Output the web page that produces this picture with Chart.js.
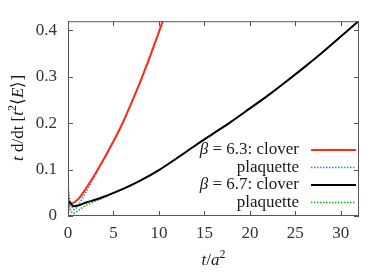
<!DOCTYPE html>
<html>
<head>
<meta charset="utf-8">
<script src="https://cdn.jsdelivr.net/npm/chart.js@4"></script>
<style>
  html, body { margin: 0; padding: 0; background: #fff; }
  #wrap { width: 390px; height: 273px; }
</style>
</head>
<body>
<div id="wrap"><canvas id="flowChart"></canvas></div>
<script>
// beta = 6.3, clover
const tClover63 = [0, 0.15, 0.4, 0.8, 1.2, 2, 3, 4, 5, 6, 7, 8, 9, 10, 10.6];
const eClover63 = [0.038, 0.03, 0.027, 0.031, 0.038, 0.06, 0.091, 0.125, 0.161, 0.2, 0.245, 0.292, 0.343, 0.397, 0.43];
// beta = 6.3, plaquette
const tPlaq63 = [0, 0.1, 0.2, 0.4, 0.7, 1, 1.5, 2, 2.5, 3, 4, 5, 6, 7, 8, 9, 10, 10.6];
const ePlaq63 = [0.065, 0.05, 0.036, 0.021, 0.014, 0.02, 0.035, 0.052, 0.07, 0.088, 0.124, 0.161, 0.2, 0.245, 0.292, 0.343, 0.397, 0.43];
// beta = 6.7, clover
const tClover67 = [0, 0.05, 0.15, 0.3, 0.6, 1, 2, 3, 4, 5, 6, 8, 10, 12, 14, 16, 18, 20, 22, 24, 26, 28, 30, 32];
const eClover67 = [0.005, 0.026, 0.03, 0.027, 0.021, 0.022, 0.029, 0.035, 0.042, 0.05, 0.058, 0.077, 0.099, 0.125, 0.152, 0.178, 0.204, 0.232, 0.26, 0.29, 0.321, 0.353, 0.387, 0.421];
// beta = 6.7, plaquette
const tPlaq67 = [0, 0.1, 0.2, 0.4, 0.7, 1, 1.5, 2, 3, 4, 5, 6, 8, 10, 12, 14, 16, 18, 20, 22, 24, 26, 28, 30, 32];
const ePlaq67 = [0.048, 0.03, 0.018, 0.009, 0.006, 0.01, 0.017, 0.023, 0.032, 0.04, 0.049, 0.058, 0.077, 0.099, 0.125, 0.152, 0.178, 0.204, 0.232, 0.26, 0.29, 0.321, 0.353, 0.387, 0.421];

const xTicks = [0, 5, 10, 15, 20, 25, 30];
const yTicks = [0, 0.1, 0.2, 0.3, 0.4];

const legendRows = [
  { parts: [{ t: "β", i: true }, { t: " = 6.3: clover" }], color: "#ff2a10", dash: [] },
  { parts: [{ t: "plaquette" }], color: "#3d7fe6", dash: [1.5, 1.5] },
  { parts: [{ t: "β", i: true }, { t: " = 6.7: clover" }], color: "#000000", dash: [] },
  { parts: [{ t: "plaquette" }], color: "#10b010", dash: [1.5, 1.5] }
];

const SERIF = "Liberation Serif";
const FS = 17;

Chart.defaults.font.family = SERIF;
Chart.defaults.font.size = FS;
Chart.defaults.color = "#333";

function toPoints(xs, ys) {
  return xs.map((x, i) => ({ x, y: ys[i] }));
}

function fontFor(p) {
  const size = p.s ? Math.round(FS * 0.72) : FS;
  return `${p.i ? "italic " : ""}${size}px "${SERIF}"`;
}

function richWidth(ctx, parts) {
  return parts.reduce((w, p) => { ctx.font = fontFor(p); return w + ctx.measureText(p.t).width; }, 0);
}

function drawRich(ctx, parts, x, y, align) {
  let cx = x;
  const w = richWidth(ctx, parts);
  if (align === "right") cx = x - w;
  if (align === "center") cx = x - w / 2;
  ctx.textBaseline = "middle";
  ctx.textAlign = "left";
  parts.forEach((p) => {
    ctx.font = fontFor(p);
    ctx.fillText(p.t, cx, p.s ? y - 6 : y);
    cx += ctx.measureText(p.t).width;
  });
}

const framePlugin = {
  id: "frame",
  afterDraw(chart) {
    const { ctx, chartArea: a, scales } = chart;
    ctx.save();
    ctx.strokeStyle = "#555";
    ctx.lineWidth = 1;
    ctx.strokeRect(a.left + 0.5, a.top + 0.5, a.right - a.left - 1, a.bottom - a.top - 1);
    // inward ticks
    ctx.beginPath();
    xTicks.forEach((v) => {
      const px = Math.round(scales.x.getPixelForValue(v)) + 0.5;
      ctx.moveTo(px, a.bottom); ctx.lineTo(px, a.bottom - 5);
      ctx.moveTo(px, a.top); ctx.lineTo(px, a.top + 5);
    });
    yTicks.forEach((v) => {
      const py = Math.round(scales.y.getPixelForValue(v)) + 0.5;
      ctx.moveTo(a.left, py); ctx.lineTo(a.left + 5, py);
      ctx.moveTo(a.right, py); ctx.lineTo(a.right - 5, py);
    });
    ctx.stroke();

    // legend
    ctx.fillStyle = "#1a1a1a";
    legendRows.forEach((row, i) => {
      const y = 150 + i * 17.5;
      drawRich(ctx, row.parts, 299, y, "right");
      ctx.beginPath();
      ctx.setLineDash(row.dash);
      ctx.strokeStyle = row.color;
      ctx.lineWidth = row.dash.length ? 1.5 : 2;
      ctx.moveTo(311, y); ctx.lineTo(356, y);
      ctx.stroke();
    });
    ctx.setLineDash([]);

    // axis titles
    ctx.fillStyle = "#1a1a1a";
    drawRich(ctx, [{ t: "t", i: true }, { t: "/" }, { t: "a", i: true }, { t: "2", s: true }], (a.left + a.right) / 2, 261, "center");
    ctx.translate(19, 118);
    ctx.rotate(-Math.PI / 2);
    drawRich(ctx, [{ t: "t", i: true }, { t: " d/dt [" }, { t: "t", i: true }, { t: "2", s: true }, { t: "⟨" }, { t: "E", i: true }, { t: "⟩]" }], 0, 0, "center");
    ctx.restore();
  }
};

function lineSet(label, xs, ys, color, dotted, order) {
  return {
    label,
    data: toPoints(xs, ys),
    borderColor: color,
    borderWidth: dotted ? 1.5 : 2,
    borderDash: dotted ? [1.5, 1.5] : [],
    pointRadius: 0,
    showLine: true,
    fill: false,
    cubicInterpolationMode: "monotone",
    order
  };
}

new Chart(document.getElementById("flowChart"), {
  type: "scatter",
  data: {
    datasets: [
      lineSet("beta 6.3 clover", tClover63, eClover63, "#ff2a10", false, 1),
      lineSet("beta 6.3 plaquette", tPlaq63, ePlaq63, "#3d7fe6", true, 2),
      lineSet("beta 6.7 clover", tClover67, eClover67, "#000000", false, 0),
      lineSet("beta 6.7 plaquette", tPlaq67, ePlaq67, "#10b010", true, 3)
    ]
  },
  options: {
    responsive: true,
    maintainAspectRatio: false,
    animation: false,
    layout: { padding: { left: 0, right: 31, top: 21, bottom: 0 } },
    plugins: { legend: { display: false }, tooltip: { enabled: false } },
    scales: {
      x: {
        type: "linear",
        min: 0,
        max: 32,
        afterFit: (s) => { s.height = 57; },
        grid: { drawOnChartArea: false, drawTicks: false },
        border: { display: false },
        ticks: {
          stepSize: 5,
          includeBounds: false,
          padding: 7,
          color: "#333",
          font: { family: SERIF, size: FS }
        }
      },
      y: {
        type: "linear",
        min: 0,
        max: 0.42,
        afterFit: (s) => { s.width = 68; },
        grid: { drawOnChartArea: false, drawTicks: false },
        border: { display: false },
        ticks: {
          stepSize: 0.1,
          includeBounds: false,
          padding: 11,
          color: "#333",
          font: { family: SERIF, size: FS },
          callback: (v) => (v === 0 ? "0" : v.toFixed(1))
        }
      }
    }
  },
  plugins: [framePlugin]
});
</script>
</body>
</html>
